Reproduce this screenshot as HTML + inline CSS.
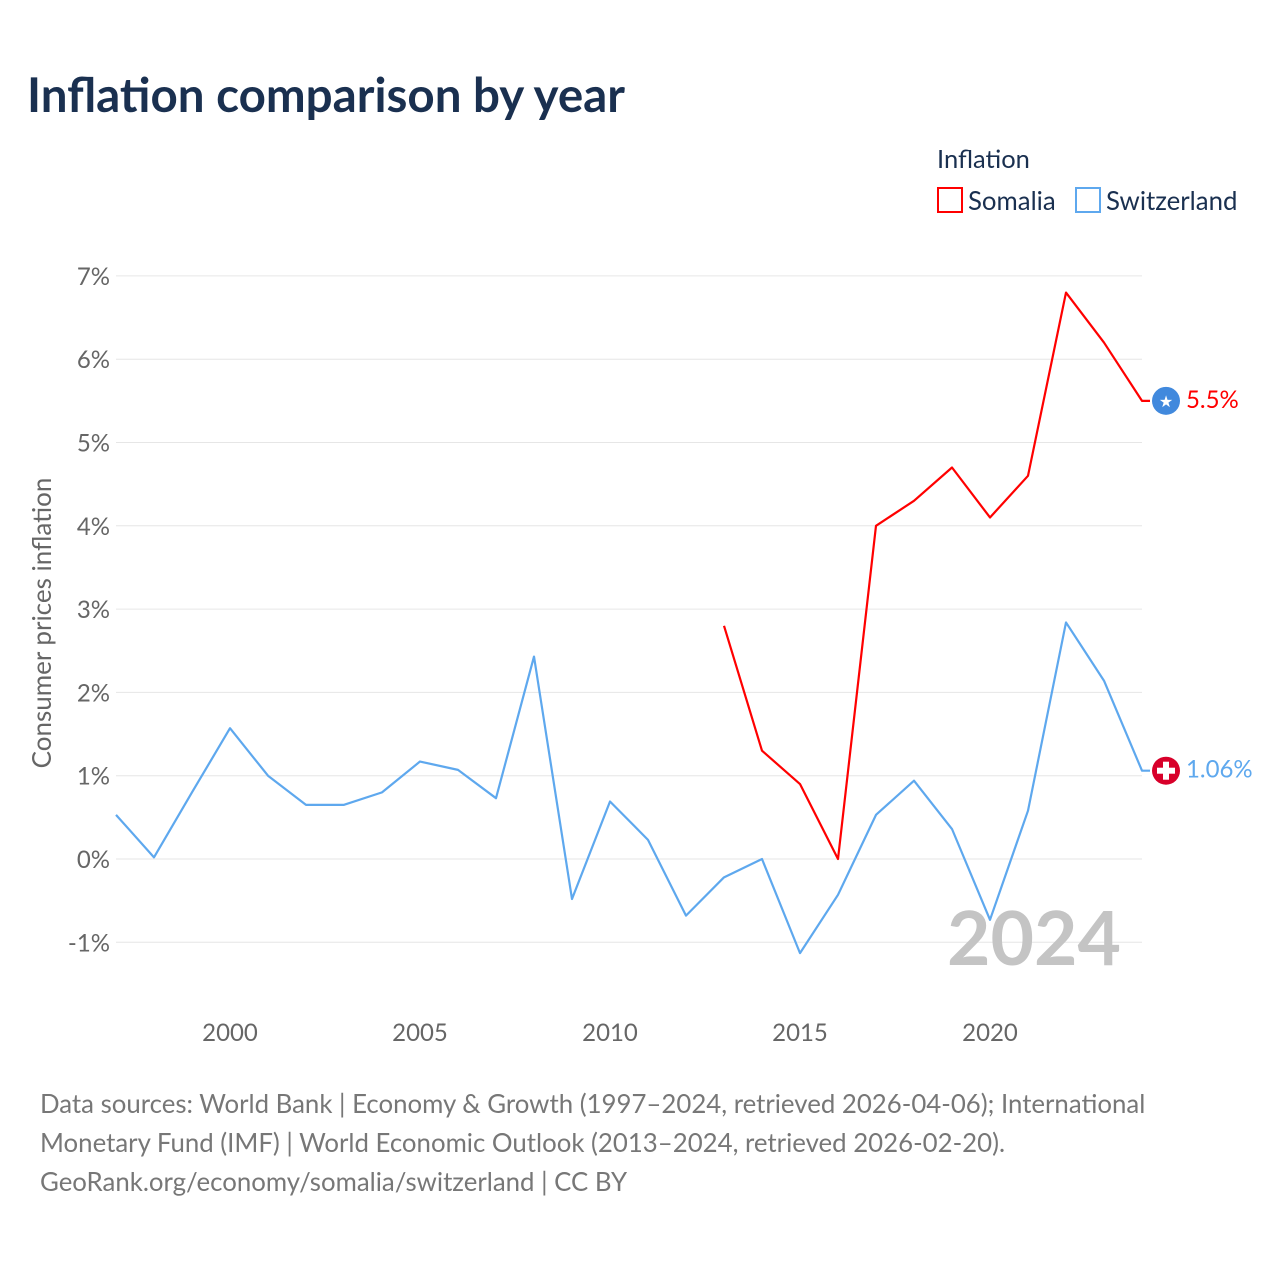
<!DOCTYPE html>
<html><head><meta charset="utf-8"><style>
body{margin:0;background:#fff;font-family:"Liberation Sans",sans-serif;}
svg text{font-family:"Lato","Liberation Sans",sans-serif;}
</style></head><body>
<svg id="chart" width="1280" height="1280" xmlns="http://www.w3.org/2000/svg">
<rect width="1280" height="1280" fill="#fff"/>
<text x="27" y="112" font-size="47.5" font-weight="bold" fill="#1a3050">Inflation comparison by year</text>
<text x="937" y="168" font-size="25.5" fill="#1a3050">Inflation</text>
<rect x="938" y="188" width="24" height="24" fill="none" stroke="#f00" stroke-width="2"/>
<text x="968" y="210" font-size="25.8" fill="#1a3050">Somalia</text>
<rect x="1076" y="188" width="24" height="24" fill="none" stroke="#5ea8ee" stroke-width="2"/>
<text x="1106" y="210" font-size="25.8" fill="#1a3050">Switzerland</text>
<g id="grid"></g>
<text transform="translate(51,623) rotate(-90)" text-anchor="middle" font-size="26" fill="#666">Consumer prices inflation</text>
<text x="1121" y="965" text-anchor="end" font-size="75" font-weight="bold" fill="#c4c4c4">2024</text>
<g id="lines"></g>
<text font-size="25.8" fill="#777">
<tspan x="40" y="1113">Data sources: World Bank | Economy &amp; Growth (1997–2024, retrieved 2026-04-06); International</tspan>
<tspan x="40" y="1152">Monetary Fund (IMF) | World Economic Outlook (2013–2024, retrieved 2026-02-20).</tspan>
<tspan x="40" y="1191">GeoRank.org/economy/somalia/switzerland | CC BY</tspan>
</text>
</svg>
<script>
const yTicks=[-1,0,1,2,3,4,5,6,7];
const xTicks=[2000,2005,2010,2015,2020];
const swissYears=[1997,1998,1999,2000,2001,2002,2003,2004,2005,2006,2007,2008,2009,2010,2011,2012,2013,2014,2015,2016,2017,2018,2019,2020,2021,2022,2023,2024];
const swissValues=[0.53,0.02,0.8,1.57,1.0,0.65,0.65,0.8,1.17,1.07,0.73,2.43,-0.48,0.69,0.23,-0.68,-0.22,0.0,-1.13,-0.43,0.53,0.94,0.36,-0.73,0.58,2.84,2.14,1.06];
const somYears=[2013,2014,2015,2016,2017,2018,2019,2020,2021,2022,2023,2024];
const somValues=[2.8,1.3,0.9,0.0,4.0,4.3,4.7,4.1,4.6,6.8,6.2,5.5];
const NS="http://www.w3.org/2000/svg";
const xS=y=>116+(y-1997)*38;
const yS=v=>859-v*83.3;
const grid=document.getElementById('grid'),lines=document.getElementById('lines');
function mk(tag,attrs,parent){const e=document.createElementNS(NS,tag);for(const k in attrs)e.setAttribute(k,attrs[k]);parent.appendChild(e);return e;}
yTicks.forEach(t=>{
 const l=mk('line',{x1:116,x2:1142,y1:yS(t),y2:yS(t),stroke:'#e6e6e6','stroke-width':1},grid);
 
 
 const tx=mk('text',{x:110,y:yS(t)+9,'text-anchor':'end','font-size':24,fill:'#666'},grid);
 tx.textContent=t+'%';
 
 
});
xTicks.forEach(t=>{
 const tx=mk('text',{x:xS(t),y:1041,'text-anchor':'middle','font-size':24,fill:'#666'},grid);
 tx.textContent=t;
 
 
});
function series(years,vals,color,name){
 let d=years.map((y,i)=>(i?'L':'M')+xS(y)+','+yS(vals[i])).join(' ');
 d+=' L'+(xS(years[years.length-1])+8)+','+yS(vals[vals.length-1]);
 const p=mk('path',{d:d,fill:'none',stroke:color,'stroke-width':2.2,'stroke-linejoin':'round'},lines);
 
 
}
series(swissYears,swissValues,'#5ea8ee','switzerland');
series(somYears,somValues,'#f00','somalia');
const sy=yS(somValues[somValues.length-1]), wy=yS(swissValues[swissValues.length-1]);
const m1=mk('circle',{cx:1166,cy:sy,r:14,fill:'#4189dd'},lines);


const st=mk('text',{x:1166,y:sy+6,'text-anchor':'middle','font-size':16,fill:'#fff'},lines);st.textContent='★';


const l1=mk('text',{x:1186,y:sy+7,'font-size':24,fill:'#f00'},lines);l1.textContent=somValues[somValues.length-1]+'%';


const m2=mk('circle',{cx:1166,cy:wy,r:14,fill:'#d8002a'},lines);


const c1=mk('rect',{x:1163,y:wy-9,width:6,height:18,fill:'#fff'},lines);


const c2=mk('rect',{x:1157,y:wy-3,width:18,height:6,fill:'#fff'},lines);


const l2=mk('text',{x:1186,y:wy+7,'font-size':24,fill:'#5ea8ee'},lines);l2.textContent=swissValues[swissValues.length-1].toFixed(2)+'%';


</script>
</body></html>
